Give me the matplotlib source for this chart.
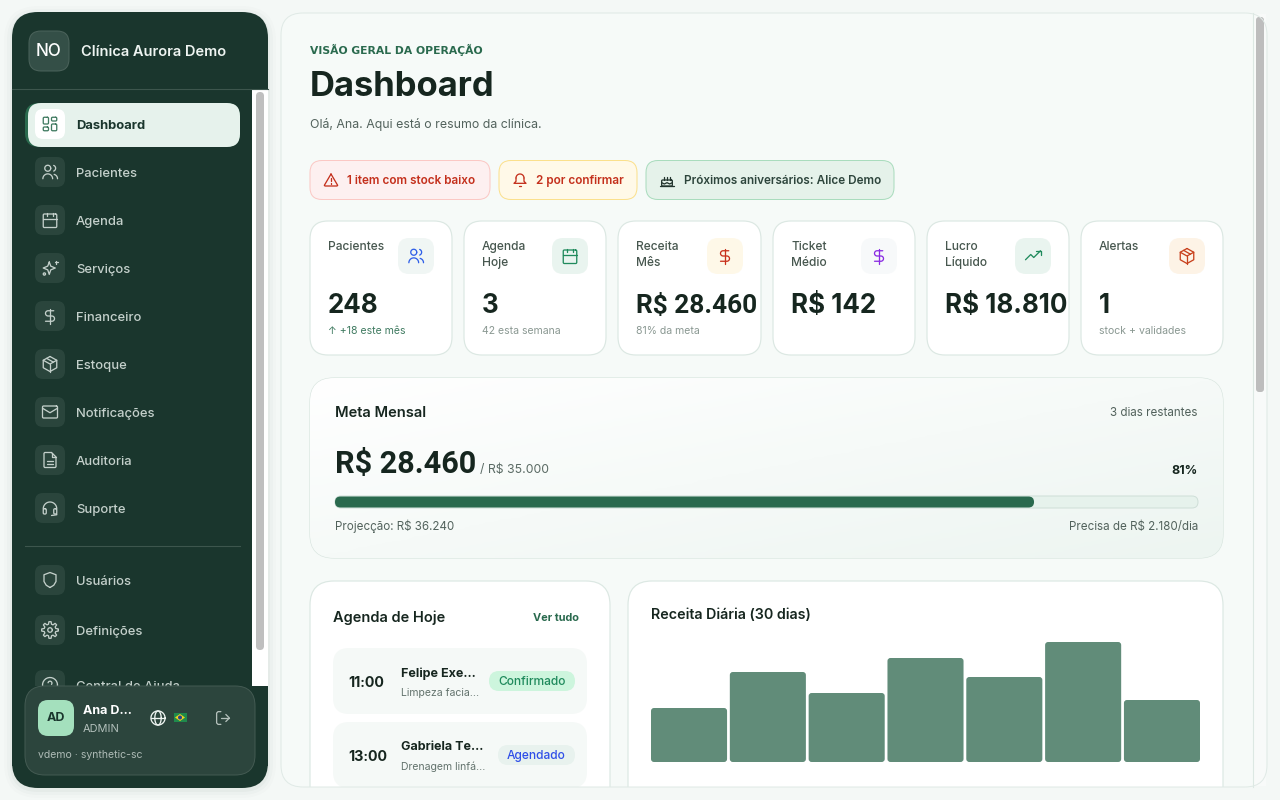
import numpy as np
import matplotlib
matplotlib.use("Agg")
import matplotlib.pyplot as plt
from matplotlib.patches import FancyBboxPatch, Circle, Rectangle, Polygon

plt.rcParams['font.family'] = ['Inter', 'DejaVu Sans']

# data
nav_top = ["Dashboard", "Pacientes", "Agenda", "Serviços", "Financeiro", "Estoque", "Notificações", "Auditoria", "Suporte"]
nav_top_icons = ["grid", "users", "calendar", "sparkles", "dollar", "box", "mail", "file", "headset"]
nav_bottom = ["Usuários", "Definições", "Central de Ajuda"]
nav_bottom_icons = ["shield", "gear", "help"]

kpi_labels = [["Pacientes"], ["Agenda", "Hoje"], ["Receita", "Mês"], ["Ticket", "Médio"], ["Lucro", "Líquido"], ["Alertas"]]
kpi_values = ["248", "3", "R$ 28.460", "R$ 142", "R$ 18.810", "1"]
kpi_subs = ["↑ +18 este mês", "42 esta semana", "81% da meta", "", "", "stock + validades"]
kpi_icons = ["users", "calendar", "dollar", "dollar", "trend", "box"]

meta_pct = 81
daily_revenue = [54, 90, 69, 104, 85, 120, 62]

agenda_times = ["11:00", "13:00"]
agenda_names = ["Felipe Exe...", "Gabriela Te..."]
agenda_services = ["Limpeza facia...", "Drenagem linfá..."]
agenda_status = ["Confirmado", "Agendado"]

DARK = "#1a362d"
INK = "#16261f"
GREEN = "#2a6a4e"
LINE = "#dce8e3"

fig = plt.figure(figsize=(12.8, 8), dpi=100, facecolor="#f4f8f6")
ax = fig.add_axes([0, 0, 1, 1])
ax.set_xlim(0, 1280)
ax.set_ylim(800, 0)
ax.axis("off")


def rrect(x, y, w, h, r, fc, ec="none", lw=1.0, z=1, a=None):
    p = FancyBboxPatch((x, y), w, h, boxstyle=f"round,pad=0,rounding_size={r}",
                       fc=fc, ec=ec, lw=lw * 0.72, zorder=z, alpha=a)
    ax.add_patch(p)
    return p


def txt(x, y, s, px, color=INK, weight="normal", ha="left", z=5, family=None):
    # y is the middle of the capitals, size is in pixels
    return ax.text(x, y + 0.36 * px, s, fontsize=px * 0.72, color=color, fontweight=weight,
                   ha=ha, va="baseline", zorder=z, family=family)


def arc(cx, cy, r, t1, t2):
    t = np.radians(np.linspace(t1, t2, 24))
    return list(zip(cx + r * np.cos(t), cy - r * np.sin(t)))


def rbox(x, y, w, h, r=1.5):
    pts = arc(x + w - r, y + r, r, 90, 0) + arc(x + w - r, y + h - r, r, 0, -90)
    pts += arc(x + r, y + h - r, r, -90, -180) + arc(x + r, y + r, r, 180, 90)
    return pts + [pts[0]]


def icon_paths(name):
    if name == "grid":
        return [rbox(3, 3, 7, 9), rbox(14, 3, 7, 5), rbox(14, 12, 7, 9), rbox(3, 16, 7, 5)]
    if name == "users":
        return [arc(9, 7, 4, 0, 360), arc(9, 21, 6.5, 0, 180), arc(15.5, 7, 4, -70, 70), arc(16, 21, 6, 0, 75)]
    if name == "calendar":
        return [rbox(3, 4, 18, 18), [(16, 2), (16, 6)], [(8, 2), (8, 6)], [(3, 10), (21, 10)]]
    if name == "sparkles":
        return [[(11, 4), (13, 9.5), (19, 12), (13, 14.5), (11, 20.5), (9, 14.5), (3, 12), (9, 9.5), (11, 4)],
                [(20, 2), (20, 6)], [(18, 4), (22, 4)], arc(4.5, 20, 1.5, 0, 360)]
    if name == "dollar":
        s = [(17, 5)] + arc(9.5, 8.5, 3.5, 90, 270) + arc(14.5, 15.5, 3.5, 90, -90) + [(6, 19)]
        return [[(12, 2), (12, 22)], s]
    if name == "box":
        return [[(12, 2), (21, 7), (21, 17), (12, 22), (3, 17), (3, 7), (12, 2)],
                [(3, 7), (12, 12), (21, 7)], [(12, 12), (12, 22)], [(7.5, 4.5), (16.5, 9.5)]]
    if name == "mail":
        return [rbox(2, 4, 20, 16), [(2, 7), (12, 13), (22, 7)]]
    if name == "file":
        return [[(14, 2), (5, 2), (4, 3), (4, 21), (5, 22), (19, 22), (20, 21), (20, 8), (14, 2)],
                [(14, 2), (14, 8), (20, 8)], [(8, 13), (16, 13)], [(8, 17), (16, 17)]]
    if name == "headset":
        return [arc(12, 13, 9, 0, 180), rbox(3, 13, 4, 7), rbox(17, 13, 4, 7), [(21, 20), (21, 21), (14, 22)]]
    if name == "shield":
        return [[(12, 22), (17, 19), (20, 14), (20, 5), (12, 2), (4, 5), (4, 14), (7, 19), (12, 22)]]
    if name == "gear":
        t = np.radians(np.arange(0, 361, 7.5))
        r = 9.5 + 1.6 * np.sign(np.cos(np.radians(np.arange(0, 361, 7.5)) * 8))
        return [arc(12, 12, 3, 0, 360), list(zip(12 + r * np.cos(t), 12 + r * np.sin(t)))]
    if name == "help":
        return [arc(12, 12, 10, 0, 360), arc(12, 9.5, 2.6, -40, 170), [(12, 17), (12, 17.2)]]
    if name == "alert":
        return [[(12, 3), (22, 20), (21, 21), (3, 21), (2, 20), (12, 3)], [(12, 9), (12, 14)], [(12, 17), (12, 17.3)]]
    if name == "bell":
        return [arc(12, 9, 6, 0, 180), [(6, 9), (6, 14), (3, 17), (21, 17), (18, 14), (18, 9)], [(10, 21), (14, 21)]]
    if name == "cake":
        return [rbox(4, 12, 16, 9), [(4, 16), (8, 18), (12, 16), (16, 18), (20, 16)], [(8, 8), (8, 12)],
                [(12, 8), (12, 12)], [(16, 8), (16, 12)], [(2, 21), (22, 21)], [(8, 4), (8, 5)], [(12, 4), (12, 5)], [(16, 4), (16, 5)]]
    if name == "trend":
        return [[(2, 17), (9, 10), (13, 14), (22, 5)], [(16, 5), (22, 5), (22, 11)]]
    if name == "globe":
        t = np.radians(np.linspace(0, 360, 40))
        return [arc(12, 12, 10, 0, 360), [(2, 12), (22, 12)], list(zip(12 + 4.5 * np.cos(t), 12 + 10 * np.sin(t)))]
    if name == "logout":
        return [[(9, 3), (5, 3), (3, 5), (3, 19), (5, 21), (9, 21)], [(16, 17), (21, 12), (16, 7)], [(21, 12), (9, 12)]]
    return []


def icon(name, cx, cy, size, color, z=4, lw=1.3):
    k = size / 24.0
    for pts in icon_paths(name):
        pts = np.array(pts)
        ax.plot(cx + (pts[:, 0] - 12) * k, cy + (pts[:, 1] - 12) * k, color=color, lw=lw * 0.72,
                solid_capstyle="round", solid_joinstyle="round", zorder=z)


# soft shadow left of the sidebar
for grow, al in [(8, 0.012), (5, 0.02), (2, 0.03)]:
    rrect(12 - grow, 12 - grow + 2, 256 + 2 * grow, 776 + 2 * grow, 26 + grow, "#1a362d", z=0.5, a=al)

# sidebar
rrect(12, 12, 256, 776, 26, DARK, z=1)
ax.add_patch(Rectangle((252, 89), 16, 597, fc="#ffffff", ec="none", zorder=1.1))
rrect(256, 92, 8, 558, 4, "#bfbfbf", z=1.2)
ax.plot([12, 268], [88.5, 88.5], color="#3d564d", lw=0.8, zorder=1.3)
rrect(29, 31, 40, 40, 12, "#344f47", "#4b635b", 1, z=2)
txt(49, 50, "NO", 17, "#ffffff", "medium", ha="center")
txt(81, 51, "Clínica Aurora Demo", 14.6, "#eef4f1", "semibold")

nav_y = [124, 172, 220, 268, 316, 364, 412, 460, 508]
rrect(25, 103, 215, 44, 14, GREEN, z=2)
rrect(28, 103, 212, 44, 13, "#e6f2ec", z=2.1)
for i, (lab, ic) in enumerate(zip(nav_top, nav_top_icons)):
    y = nav_y[i]
    if i == 0:
        rrect(35, y - 15, 30, 30, 8, "#ffffff", z=3)
        icon(ic, 50, y, 18, "#3f7a60")
        txt(76, y, lab, 13, DARK, "bold")
    else:
        rrect(35, y - 15, 30, 30, 8, "#2a453c", z=3)
        icon(ic, 50, y, 18, "#c4d0cb")
        txt(76, y, lab, 13, "#c4d0cb", "medium")
ax.plot([25, 240], [545.5, 545.5], color="#3d564d", lw=0.8, zorder=2)
for lab, ic, y in zip(nav_bottom, nav_bottom_icons, [580, 630, 685]):
    rrect(35, y - 15, 30, 30, 8, "#2a453c", z=3)
    icon(ic, 50, y, 18, "#c4d0cb")
    txt(76, y, lab, 13, "#c4d0cb", "medium")

# footer of the sidebar sits over the list
ax.add_patch(Rectangle((12, 686), 256, 80, fc=DARK, ec="none", zorder=6))
rrect(25, 686, 230, 89, 20, "#2c453d", "#435a52", 1, z=6.1)
rrect(38, 700, 36, 36, 10, "#a4e0bd", z=6.2)
ax.text(56, 718, "AD", fontsize=9, fontweight="bold", color=DARK, ha="center", va="center", zorder=7)
txt(83, 709, "Ana D...", 12.5, "#ffffff", "bold", z=7)
txt(83, 728, "ADMIN", 11, "#b3c0bb", z=7)
icon("globe", 158, 718, 17, "#eef4f1", z=7)
ax.add_patch(Rectangle((173.5, 713), 13, 9, fc="#1f8a4c", ec="none", zorder=7))
ax.add_patch(Polygon([(175, 717.5), (180, 714), (185, 717.5), (180, 721)], fc="#f2d21f", ec="none", zorder=7.1))
ax.add_patch(Circle((180, 717.5), 2, fc="#27408f", ec="none", zorder=7.2))
icon("logout", 223, 718, 17, "#b3c0bb", z=7)
txt(38, 754, "vdemo · synthetic-sc", 10.5, "#aebbb6", z=7)

# main panel
panel = rrect(281, 13, 986, 774, 22, "#f6faf8", z=0.8)
ax.add_patch(Rectangle((1253, 14), 13, 772, fc="#f8faf9", ec="none", zorder=0.9))
ax.plot([1252.5, 1252.5], [13, 787], color=LINE, lw=0.8, zorder=0.95)
rrect(1256, 17, 8, 375, 3, "#bdbdbd", z=1)

txt(310, 50, "VISÃO GERAL DA OPERAÇÃO", 10.8, GREEN, "bold", family="DejaVu Sans")
txt(310, 84, "Dashboard", 34.6, INK, "bold")
txt(310, 124, "Olá, Ana. Aqui está o resumo da clínica.", 12.35, "#52625c")

# alert chips
chips = [(310, 180, "#fdf0f0", "#fbc8c4", "alert", "1 item com stock baixo", "#c4301c"),
         (499, 138, "#fff9e8", "#fbe08c", "bell", "2 por confirmar", "#c4301c"),
         (646, 248, "#e5f2ea", "#a9dcbd", "cake", "Próximos aniversários: Alice Demo", "#2d453c")]
for x, w, fc, ec, ic, s, col in chips:
    rrect(x, 160.5, w, 39, 12, fc, ec, 1, z=2)
    icon(ic, x + 21, 180, 16, col if ic != "cake" else "#22352e")
    txt(x + (37 if ic != "cake" else 38), 180, s, 11.8, col, "semibold")

# kpi cards
kpi_x = [310, 464, 618, 773, 927, 1081]
kpi_w = [142, 142, 143, 142, 142, 142]
tile_fc = ["#f0f6f4", "#e9f4ef", "#fef8e8", "#f7f9fa", "#e9f4ef", "#fdf3e6"]
icon_col = ["#2f5fe8", "#1f8a5c", "#c8301c", "#8a2be2", "#1f8a5c", "#c8401c"]
sub_col = ["#3f7a60", "#8a9892", "#8a9892", "#8a9892", "#8a9892", "#8a9892"]
for i in range(6):
    x = kpi_x[i]
    rrect(x, 221, kpi_w[i], 134, 18, "#ffffff", LINE, 1.2, z=2)
    for j, part in enumerate(kpi_labels[i]):
        txt(x + 18, 246 + 16 * j, part, 12, "#47574f", "medium")
    rrect(x + kpi_w[i] - 54, 238, 36, 36, 11, tile_fc[i], z=3)
    icon(kpi_icons[i], x + kpi_w[i] - 36, 256, 18, icon_col[i])
    if kpi_values[i] == "R$ 28.460":
        # this one has to fit inside its card
        txt(x + 18, 304, kpi_values[i], 26.2, INK, "bold", family="Roboto")
    else:
        txt(x + 18, 304, kpi_values[i], 26, INK, "bold")
    txt(x + 18, 330, kpi_subs[i], 10.5, sub_col[i])

# monthly target card with a faint diagonal wash
card = rrect(310, 378, 913, 180, 24, "#ffffff", "#d8e5df", 1.2, z=2)
u, v = np.meshgrid(np.linspace(0, 1, 64), np.linspace(0, 1, 64))
wash = ax.imshow((u + v) / 2, extent=(310, 1223, 558, 378), cmap=matplotlib.colors.LinearSegmentedColormap.from_list("w", ["#ffffff", "#edf5f1"]),
                 aspect="auto", zorder=2.1, origin="upper")
wash.set_clip_path(card)
ax.set_xlim(0, 1280)
ax.set_ylim(800, 0)
txt(335, 412, "Meta Mensal", 14.7, INK, "semibold")
txt(1198, 412, "3 dias restantes", 11.6, "#52625c", ha="right")
txt(335, 462, "R$ 28.460", 30.7, INK, "bold", family="Roboto")
txt(480, 469, "/ R$ 35.000", 12.3, "#5b6b65")
txt(1198, 469, f"{meta_pct}%", 12.5, INK, "bold", ha="right")
bar_x, bar_w = 335, 863
rrect(bar_x, 496, bar_w, 12, 6, "#e6f2ec", "#cfdfd8", 1, z=3)
rrect(bar_x, 496.5, bar_w * meta_pct / 100, 11, 5.5, GREEN, z=3.1)
txt(335, 526, "Projecção: R$ 36.240", 11.6, "#52625c")
txt(1198, 526, "Precisa de R$ 2.180/dia", 11.6, "#52625c", ha="right")

# agenda card
rrect(310, 581, 300, 260, 24, "#ffffff", LINE, 1.2, z=2)
txt(333, 617, "Agenda de Hoje", 14.6, INK, "semibold")
txt(579, 617, "Ver tudo", 11, GREEN, "bold", ha="right")
badge_x = [489, 498]
badge_fc = ["#cdf5dd", "#e8f2ee"]
badge_col = ["#1f8a5c", "#2f4fe8"]
for i in range(2):
    top = 648 + 74 * i
    rrect(333, top, 254, 66, 16, "#f5f9f7", z=3)
    txt(348, top + 33.5, agenda_times[i], 14.3, INK, "bold")
    txt(401, top + 24, agenda_names[i], 12.5, INK, "bold")
    txt(401, top + 44, agenda_services[i], 10.5, "#63736d")
    rrect(badge_x[i], top + 23, 575 - badge_x[i], 20, 10, badge_fc[i], z=4)
    txt((badge_x[i] + 575) / 2, top + 33, agenda_status[i], 12, badge_col[i], "medium", ha="center")

# daily revenue card
rrect(628, 581, 595, 260, 24, "#ffffff", LINE, 1.2, z=2)
txt(651, 614, "Receita Diária (30 dias)", 14.3, INK, "semibold")

# everything below the panel edge is cut off
ax.add_patch(Rectangle((295, 787), 945, 13, fc="#f4f8f6", ec="none", zorder=8))
rrect(281, 13, 986, 774, 22, "none", "#e0eae6", 1.0, z=8.1)

cx = fig.add_axes([651 / 1280, 1 - 762 / 800, 549 / 1280, 120 / 800])
cx.patch.set_alpha(0)
cx.axis("off")
bw = 0.965
bars = cx.bar(range(len(daily_revenue)), daily_revenue, width=bw, color="#618c79")
cx.set_xlim(-bw / 2, len(daily_revenue) - 1 + bw / 2)
cx.set_ylim(0, 120)
px_x = 78.8
for b in bars:
    round_bar = FancyBboxPatch((b.get_x(), 0), b.get_width(), b.get_height(),
                               boxstyle=f"round,pad=0,rounding_size={3 / px_x}", mutation_aspect=px_x,
                               fc="#618c79", ec="none")
    cx.add_patch(round_bar)
    b.set_visible(False)

fig.savefig("out.png", dpi=100, facecolor=fig.get_facecolor())
